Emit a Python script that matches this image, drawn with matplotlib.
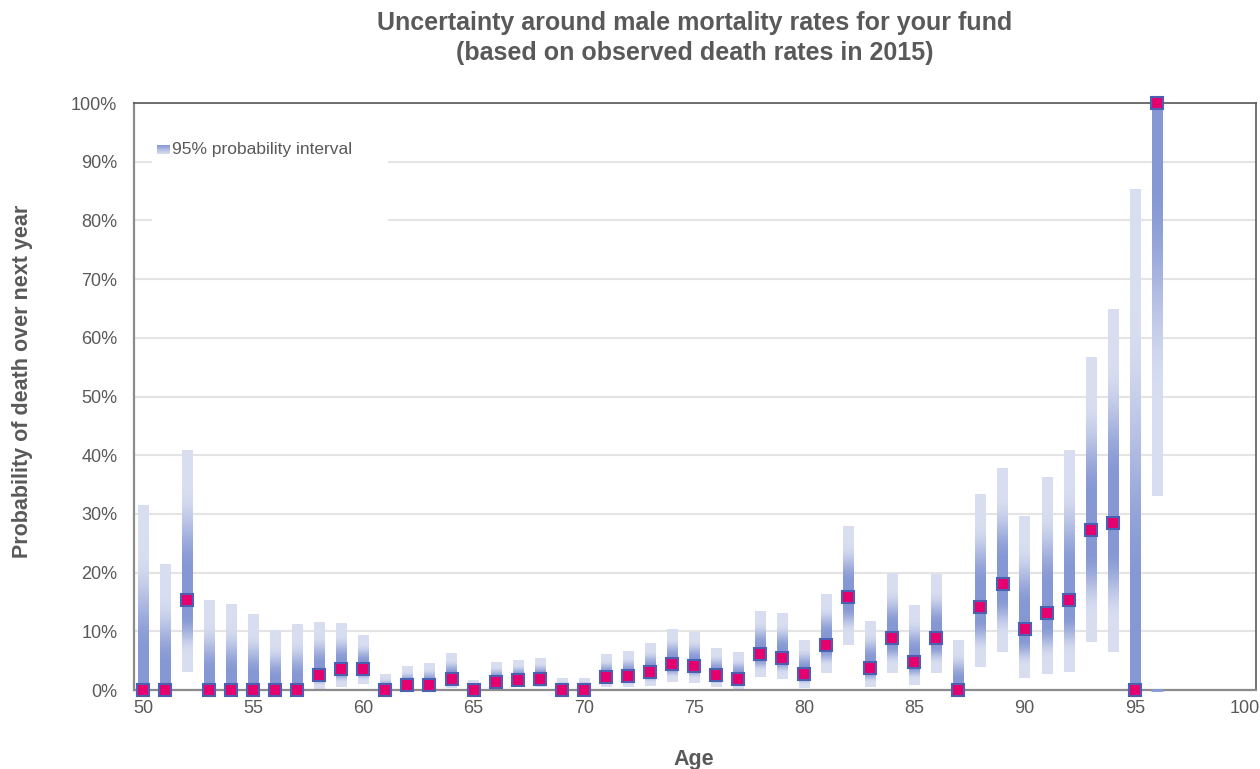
import numpy as np
import matplotlib
matplotlib.use("Agg")
import matplotlib.pyplot as plt
from matplotlib.patches import Rectangle
from matplotlib.ticker import PercentFormatter, MultipleLocator

plt.rcParams['font.family'] = ['Liberation Sans', 'DejaVu Sans']

# central estimate and 95% interval of the one-year death probability, in %
ages = list(range(50, 97))
best = [0, 0, 15.3, 0, 0, 0, 0, 0, 2.5, 3.6,
        3.5, 0, 0.8, 0.85, 1.8, 0, 1.4, 1.75, 1.9, 0,
        0, 2.2, 2.4, 3.0, 4.4, 4.1, 2.6, 1.9, 6.2, 5.5,
        2.7, 7.7, 15.9, 3.7, 8.8, 4.7, 8.8, 0, 14.2, 18.1,
        10.4, 13.2, 15.3, 27.2, 28.4, 0, 100]
lower = [0, 0, 3.1, 0, 0, 0, 0, 0, 0.1, 0.6,
         1.0, 0, 0.05, 0.05, 0.3, 0, 0.15, 0.45, 0.45, 0,
         0, 0.6, 0.6, 0.7, 1.4, 1.2, 0.6, 0.2, 2.3, 1.8,
         0.4, 2.9, 7.7, 0.6, 2.9, 0.9, 2.9, 0, 4.0, 6.4,
         2.1, 2.8, 3.1, 8.2, 6.4, 0, 33.0]
upper = [31.5, 21.3, 40.9, 15.2, 14.5, 12.9, 10.2, 11.1, 11.4, 11.4,
         9.2, 2.6, 4.1, 4.6, 6.1, 1.7, 4.6, 4.9, 5.3, 1.9,
         1.9, 6.1, 6.6, 8.0, 10.4, 9.8, 7.2, 6.5, 13.5, 12.9,
         8.5, 16.2, 27.9, 11.8, 19.8, 14.5, 19.6, 8.5, 33.4, 37.6,
         29.6, 36.3, 40.9, 56.6, 64.7, 85.3, 100]
stub_age = [96]
stub_val = [0]

dark = np.array([134, 152, 212]) / 255
light = np.array([216, 222, 240]) / 255
txt = '#595959'
bar_w = 0.46


def shade(lo, pt, hi, n=300):
    # dark at the estimate, fading to light towards both interval ends
    ys = np.linspace(lo, hi, n)
    t = np.zeros(n)
    below = ys < pt
    if pt > lo:
        t[below] = (pt - ys[below]) / (pt - lo)
    if hi > pt:
        t[~below] = (ys[~below] - pt) / (hi - pt)
    s = np.clip((t - 0.2) / 0.55, 0, 1)
    s = s * s * (3 - 2 * s)
    return dark + (light - dark) * s[:, None]


fig = plt.figure(figsize=(12.6, 7.69), dpi=100)
ax = fig.add_axes([0.1063, 0.1027, 0.8905, 0.7633])

for a, lo, pt, hi in zip(ages, lower, best, upper):
    img = shade(lo, pt, hi)[:, None, :]
    ax.imshow(img, extent=(a - bar_w / 2, a + bar_w / 2, lo, hi),
              origin='lower', aspect='auto', interpolation='bilinear', zorder=2)

ax.plot(stub_age, stub_val, ls='none', marker='_', ms=8, mew=2,
        color='#8699d4', zorder=3, clip_on=False)
ax.plot(ages, best, ls='none', marker='s', ms=8.5, mfc='#e6006e',
        mec='#4b60b0', mew=1.5, zorder=5, clip_on=False)

ax.xaxis.set_major_locator(MultipleLocator(5))
ax.yaxis.set_major_locator(MultipleLocator(10))
ax.yaxis.set_major_formatter(PercentFormatter(100, decimals=0))
ax.grid(axis='y', color='#e4e4e4', lw=1.5)
ax.set_axisbelow(True)
ax.tick_params(length=0, labelsize=13, colors=txt)
ax.tick_params(axis='y', pad=12)
ax.tick_params(axis='x', pad=7)
for s in ['top', 'right']:
    ax.spines[s].set_color('#595959')
    ax.spines[s].set_linewidth(1.2)
for s in ['left', 'bottom']:
    ax.spines[s].set_color('#8c8c8c')
    ax.spines[s].set_linewidth(1.6)

# legend box with a small gradient key
ax.add_patch(Rectangle((0.016, 0.797), 0.21, 0.165, transform=ax.transAxes,
                       facecolor='white', edgecolor='none', zorder=1))
key = np.linspace(light, dark, 20)[::-1][:, None, :]
ax.imshow(key, extent=(0.0205, 0.032, 0.913, 0.928), transform=ax.transAxes,
          origin='upper', aspect='auto', zorder=3)
ax.text(0.0335, 0.9205, '95% probability interval', transform=ax.transAxes,
        fontsize=12.5, color=txt, va='center', ha='left', zorder=3)
ax.set_xlim(49.59, 100.5)
ax.set_ylim(0, 100)

fig.text(0.551, 0.9505, 'Uncertainty around male mortality rates for your fund\n'
         '(based on observed death rates in 2015)', ha='center', va='center',
         fontsize=18, fontweight='bold', color=txt, linespacing=1.3)
fig.text(0.551, 0.013, 'Age', ha='center', va='center', fontsize=15.5,
         fontweight='bold', color=txt)
fig.text(0.0175, 0.5046, 'Probability of death over next year', rotation=90,
         ha='center', va='center', fontsize=15.5, fontweight='bold', color=txt)

fig.savefig('out.png', dpi=100)
